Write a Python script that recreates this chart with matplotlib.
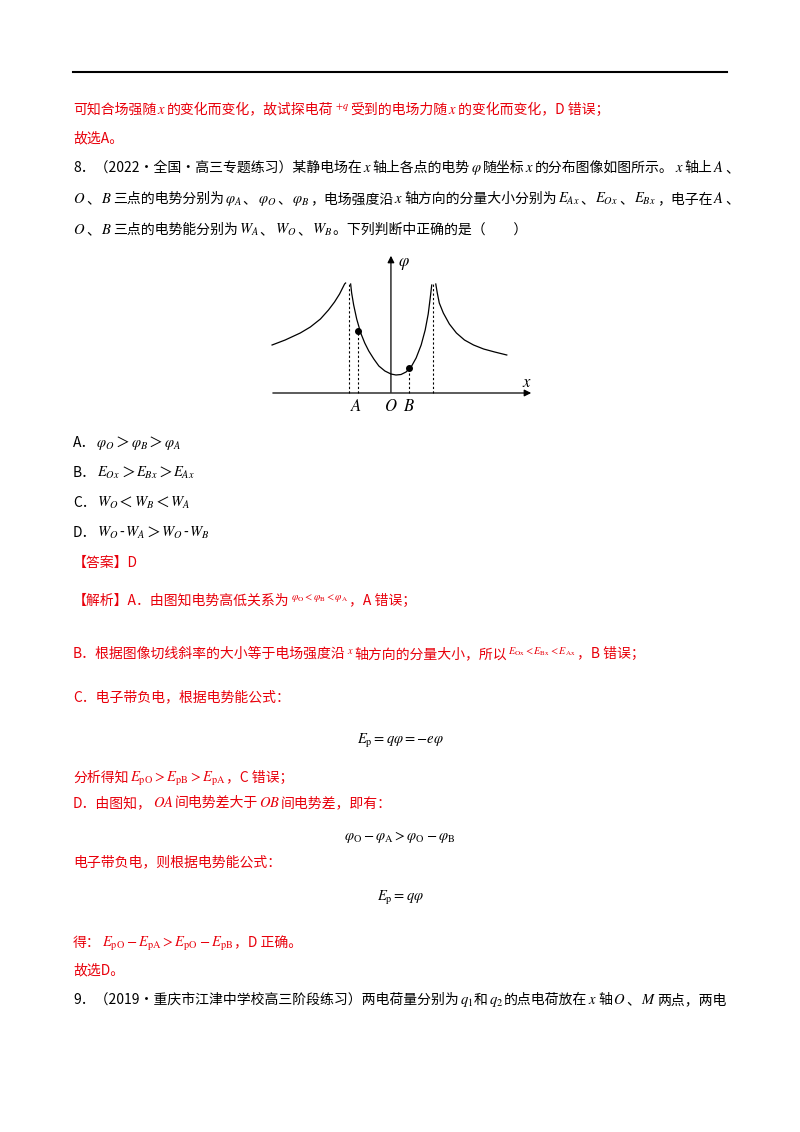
import re
import numpy as np
import matplotlib
matplotlib.use("Agg")
import matplotlib.pyplot as plt

plt.rcParams['font.family'] = ['Noto Sans CJK SC', 'DejaVu Sans']
plt.rcParams['mathtext.fontset'] = 'stix'

RED = "#e8000b"
W, H = 800, 1132

# curve data (x in units, phi in units)
left_x = [-11.8, -10.5, -9.0, -8.0, -7.0, -6.2, -5.6, -5.1, -4.8, -4.6, -4.5]
left_y = [4.8, 5.3, 6.0, 6.6, 7.4, 8.3, 9.1, 9.9, 10.5, 10.9, 11.0]
mid_x = [-4.0, -3.9, -3.7, -3.4, -3.0, -2.6, -2.2, -1.7, -1.2, -0.6, 0.0, 0.5, 1.0, 1.5, 2.0, 2.5, 3.0, 3.4, 3.7, 3.9, 4.05]
mid_y = [10.9, 10.0, 8.8, 7.4, 6.0, 5.0, 4.2, 3.4, 2.7, 2.2, 1.9, 1.8, 1.85, 2.1, 2.6, 3.5, 4.8, 6.3, 7.9, 9.5, 10.8]
right_x = [4.45, 4.6, 4.8, 5.2, 5.8, 6.5, 7.3, 8.2, 9.2, 10.3, 11.5]
right_y = [10.9, 10.0, 9.0, 8.0, 6.9, 6.0, 5.3, 4.8, 4.4, 4.1, 3.8]
pt_A = (-3.3, 6.2)
pt_B = (1.8, 2.5)
dash_x = [-4.2, -3.3, 1.8, 4.2]
dash_top = [11.0, 6.2, 2.5, 11.0]

lines = [
    (110, 73, RED, "可知合场强随$x$的变化而变化，故试探电荷$^{+q}$受到的电场力随$x$的变化而变化，D 错误；", False),
    (138, 73, RED, "故选A。", False),
    (168, 73, "black", "8．（2022·全国·高三专题练习）某静电场在$x$轴上各点的电势$\\varphi$随坐标$x$的分布图像如图所示。$x$轴上$A$、", False),
    (199, 73, "black", "$O$、$B$三点的电势分别为$\\varphi_A$、$\\varphi_O$、$\\varphi_B$，电场强度沿$x$轴方向的分量大小分别为$E_{Ax}$、$E_{Ox}$、$E_{Bx}$，电子在$A$、", False),
    (230, 73, "black", "$O$、$B$三点的电势能分别为$W_A$、$W_O$、$W_B$。下列判断中正确的是（　　）", False),
    (443, 73, "black", "A．$\\varphi_O$＞$\\varphi_B$＞$\\varphi_A$", False),
    (473, 73, "black", "B．$E_{Ox}$＞$E_{Bx}$＞$E_{Ax}$", False),
    (503, 73, "black", "C．$W_O$＜$W_B$＜$W_A$", False),
    (533, 73, "black", "D．$W_O$-$W_A$＞$W_O$-$W_B$", False),
    (563, 73, RED, "【答案】D", False),
    (601, 73, RED, "【解析】A．由图知电势高低关系为$^{\\varphi_{\\rm O}<\\varphi_{\\rm B}<\\varphi_{\\rm A}}$，A 错误；", False),
    (654, 73, RED, "B．根据图像切线斜率的大小等于电场强度沿$^{x}$轴方向的分量大小，所以$^{E_{\\rm Ox}<E_{\\rm Bx}<E_{\\rm Ax}}$，B 错误；", False),
    (697, 73, RED, "C．电子带负电，根据电势能公式：", False),
    (740, 400, "black", "$E_{\\rm p}=q\\varphi=-e\\varphi$", True),
    (778, 73, RED, "分析得知$E_{\\rm pO}>E_{\\rm pB}>E_{\\rm pA}$，C 错误；", False),
    (803, 73, RED, "D．由图知，$OA$间电势差大于$OB$间电势差，即有：", False),
    (836, 400, "black", "$\\varphi_{\\rm O}-\\varphi_{\\rm A}>\\varphi_{\\rm O}-\\varphi_{\\rm B}$", True),
    (862, 73, RED, "电子带负电，则根据电势能公式：", False),
    (897, 400, "black", "$E_{\\rm p}=q\\varphi$", True),
    (943, 73, RED, "得：$E_{\\rm pO}-E_{\\rm pA}>E_{\\rm pO}-E_{\\rm pB}$，D 正确。", False),
    (970, 73, RED, "故选D。", False),
    (1000, 73, "black", "9．（2019·重庆市江津中学校高三阶段练习）两电荷量分别为$q_1$和$q_2$的点电荷放在$x$轴$O$、$M$两点，两电", False),
]

fig = plt.figure(figsize=(W / 100, H / 100), dpi=100)
renderer = fig.canvas.get_renderer()

fig.add_artist(plt.Line2D([73 / W, 727 / W], [1 - 72 / H, 1 - 72 / H], color="black", lw=1.5))


def draw_line(y, x, color, s, center):
    y = y + 4  # baseline sits a little below the text centre
    parts = [p for p in re.split(r"(\$[^$]*\$)", s) if p]
    arts = []
    for p in parts:
        is_math = p.startswith("$")
        t = fig.text(0, 1 - y / H, p, color=color, fontsize=10.5 if is_math else 10,
                     va="baseline", ha="left")
        arts.append(t)
    widths = [a.get_window_extent(renderer).width for a in arts]
    cx = x - sum(widths) / 2 if center else x
    for a, w in zip(arts, widths):
        a.set_x(cx / W)
        cx += w + 1


for ln in lines:
    draw_line(*ln)

# small graph
ax = fig.add_axes([262 / W, 1 - 405 / H, 275 / W, 155 / H])
ax.set_xlim(-12.8, 14.5)
ax.set_ylim(-1.2, 14.3)
ax.axis("off")
ax.annotate("", xy=(14.2, 0), xytext=(-12.0, 0),
            arrowprops=dict(arrowstyle="-|>", color="black", lw=0.9, mutation_scale=10))
ax.annotate("", xy=(0, 14.0), xytext=(0, -0.2),
            arrowprops=dict(arrowstyle="-|>", color="black", lw=0.9, mutation_scale=10))
for xs, ys in [(left_x, left_y), (mid_x, mid_y), (right_x, right_y)]:
    ax.plot(xs, ys, color="black", lw=0.9)
for dx, dt in zip(dash_x, dash_top):
    ax.plot([dx, dx], [0, dt], color="black", lw=0.8, ls=(0, (2, 2)))
ax.plot(*pt_A, "o", color="black", ms=4)
ax.plot(*pt_B, "o", color="black", ms=4)
ax.text(13.0, 0.6, "$x$", fontsize=12)
ax.text(0.7, 12.7, "$\\varphi$", fontsize=12)
ax.text(-3.5, -0.5, "$A$", fontsize=12, ha="center", va="top")
ax.text(0.0, -0.5, "$O$", fontsize=12, ha="center", va="top")
ax.text(1.8, -0.5, "$B$", fontsize=12, ha="center", va="top")

fig.savefig("out.png", dpi=100)
